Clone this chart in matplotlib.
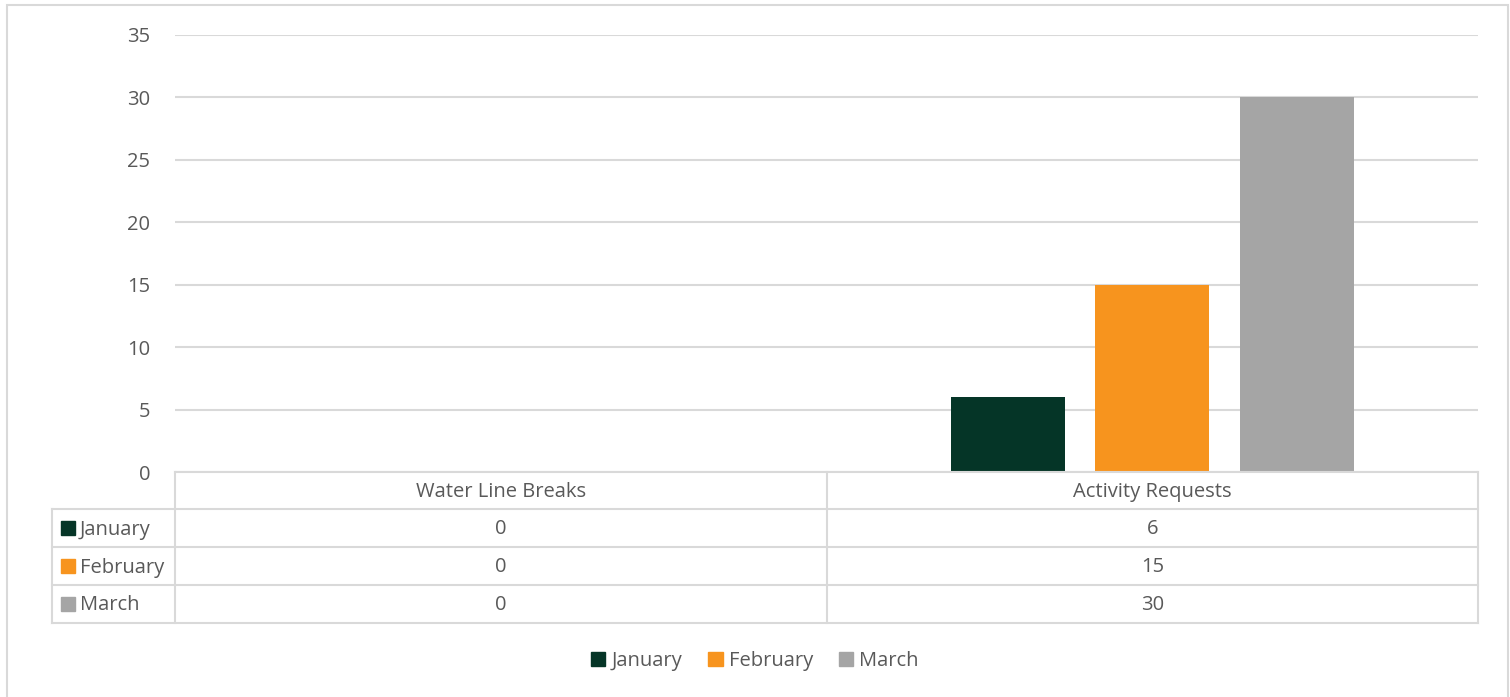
import numpy as np
import matplotlib; matplotlib.use('Agg')
import matplotlib.pyplot as plt
from matplotlib.patches import Rectangle, Patch
from matplotlib.lines import Line2D

CATEGORIES = ['Water Line Breaks', 'Activity Requests']
MONTHS = ['January', 'February', 'March']
VALUES = [[0, 6], [0, 15], [0, 30]]
COLORS = ['#053527', '#f7941e', '#a5a5a5']
YTICKS = [0, 5, 10, 15, 20, 25, 30, 35]

W, H = 1510, 697
TXT = '#595959'; GRID = '#d9d9d9'; FS = 14.5
plt.rcParams['font.family'] = ['Open Sans', 'DejaVu Sans']

fig = plt.figure(figsize=(W/100, H/100), dpi=100)
def fx(x): return x / W
def fy(y): return 1 - y / H

# plot area in pixel coords
L, R, T, B = 175, 1478, 35, 472
ax = fig.add_axes([fx(L), fy(B), (R-L)/W, (B-T)/H])
x = np.arange(len(CATEGORIES)) + 0.5
bw = 0.175; step = 0.222
for i, (m, vals) in enumerate(zip(MONTHS, VALUES)):
    ax.bar(x + (i-1)*step, vals, bw, color=COLORS[i], zorder=3)
ax.set_xlim(0, len(CATEGORIES)); ax.set_ylim(0, 35)
ax.set_yticks(YTICKS)
ax.set_xticks([])
for s in ax.spines.values(): s.set_visible(False)
ax.grid(True, axis='y', color=GRID, lw=1.5, zorder=0)
ax.tick_params(axis='y', length=0, pad=18, labelsize=FS, labelcolor=TXT)

# data table below the axes
def hline(y, x0, x1):
    fig.add_artist(Line2D([fx(x0), fx(x1)], [fy(y), fy(y)], color=GRID, lw=1.5))
def vline(xp, y0, y1):
    fig.add_artist(Line2D([fx(xp), fx(xp)], [fy(y0), fy(y1)], color=GRID, lw=1.5))

rows = [472, 509, 547, 585, 623]
hline(472, L, R)
for y in rows[1:]: hline(y, 52, R)
vline(52, 509, 623)
mid = (L + R) / 2
for xp in (L, mid, R): vline(xp, 472, 623)

cw = (R - L) / len(CATEGORIES)
for j, c in enumerate(CATEGORIES):
    fig.text(fx(L + cw*(j+0.5)), fy((rows[0]+rows[1])/2 + 1.5), c, ha='center', va='center',
             fontsize=FS, color=TXT)
for i, m in enumerate(MONTHS):
    yc = (rows[i+1] + rows[i+2]) / 2
    fig.add_artist(Rectangle((fx(61), fy(yc+7)), 14/W, 14/H, color=COLORS[i], transform=fig.transFigure))
    fig.text(fx(80), fy(yc + 1.5), m, ha='left', va='center', fontsize=FS, color=TXT)
    for j in range(len(CATEGORIES)):
        fig.text(fx(L + cw*(j+0.5)), fy(yc + 1.5), str(VALUES[i][j]), ha='center', va='center',
                 fontsize=FS, color=TXT)

handles = [Patch(color=c, label=m) for c, m in zip(COLORS, MONTHS)]
fig.legend(handles=handles, loc='center', bbox_to_anchor=(0.5, fy(661)), ncol=3, frameon=False,
           fontsize=FS, labelcolor=TXT, handlelength=0.7, handleheight=0.7,
           handletextpad=0.3, columnspacing=1.3)

# outer chart border
fig.add_artist(Rectangle((fx(7), fy(H+2)), (1508-7)/W, (H+2-5)/H, fill=False,
                         edgecolor=GRID, lw=1.5, transform=fig.transFigure))

fig.savefig('out.png', dpi=100)
